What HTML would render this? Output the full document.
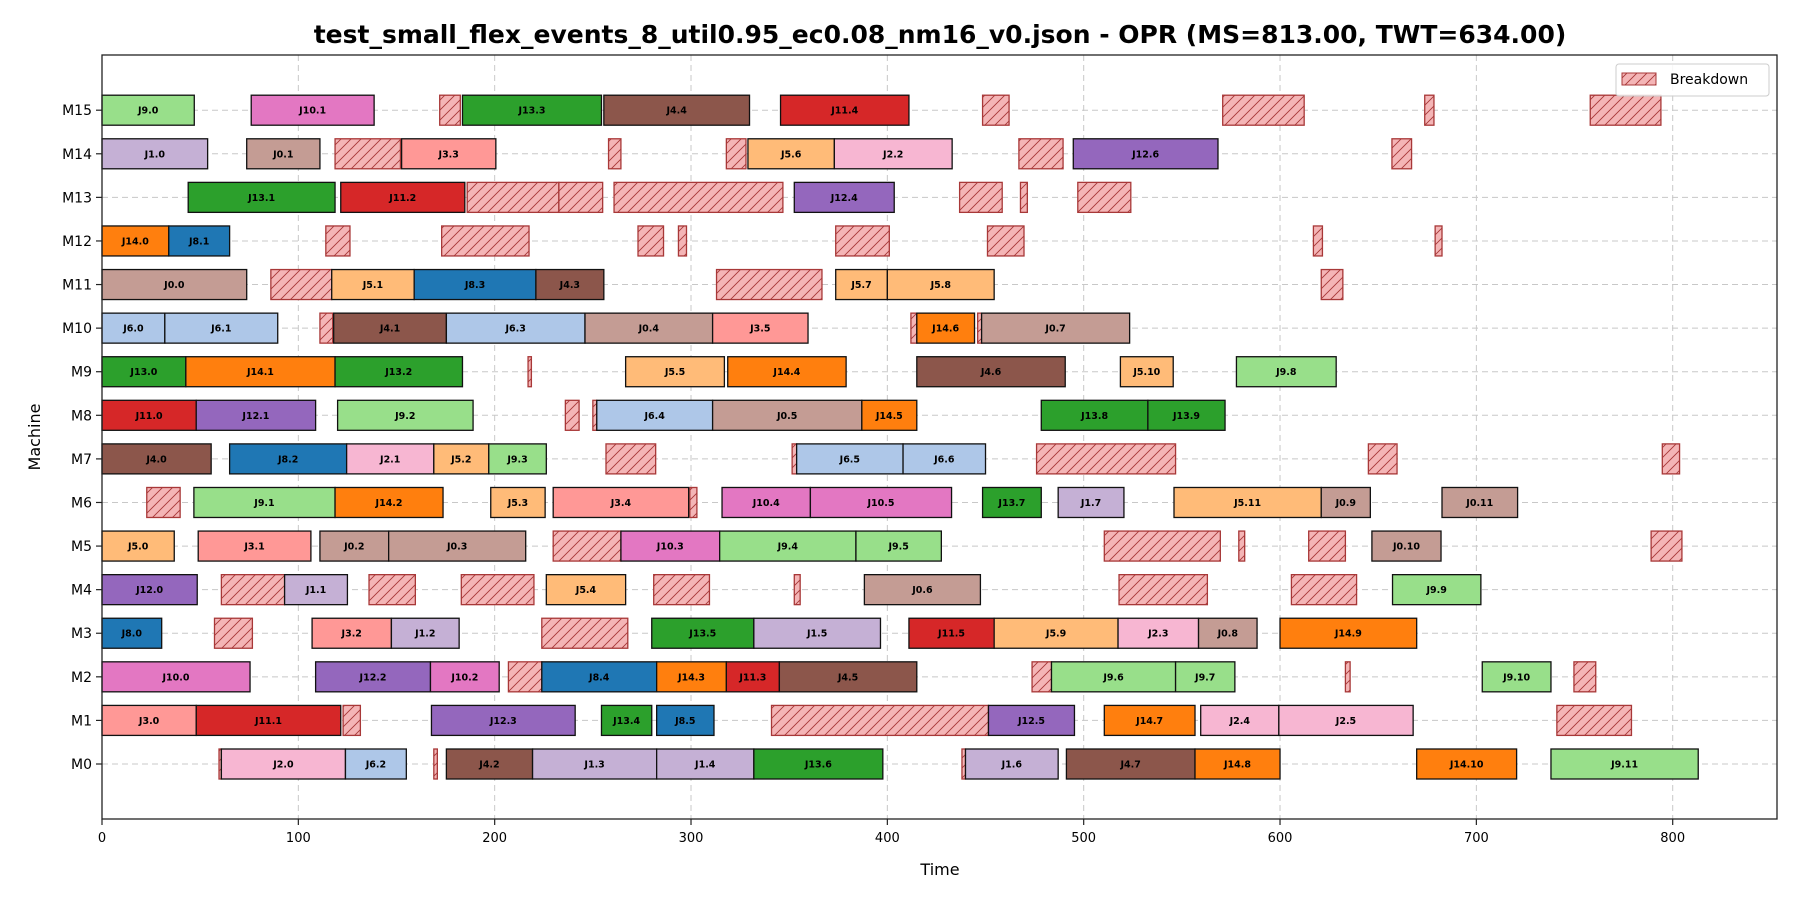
<!DOCTYPE html>
<html><head><meta charset="utf-8">
<style>
html,body{margin:0;padding:0;background:#fff;}
svg{display:block;font-family:"DejaVu Sans","Liberation Sans",sans-serif;}
</style></head>
<body>
<svg id="chart" width="1800" height="900" viewBox="0 0 1800 900">
<defs>
<pattern id="hatch" patternUnits="userSpaceOnUse" width="10" height="10">
<rect width="10" height="10" fill="#f4b5b6"/>
<path d="M-2,12 L12,-2 M-7,7 L7,-7 M3,17 L17,3" stroke="#a83838" stroke-width="0.9"/>
</pattern>
</defs>
<text x="940" y="43" text-anchor="middle" font-size="25" font-weight="bold">test_small_flex_events_8_util0.95_ec0.08_nm16_v0.json - OPR (MS=813.00, TWT=634.00)</text>
<g id="grid"></g>
<g id="bars"></g>
<rect x="102" y="55" width="1675" height="764" fill="none" stroke="#222" stroke-width="1.3"/>
<g id="axes"></g>
<text x="940" y="875" text-anchor="middle" font-size="16">Time</text>
<text x="0" y="0" transform="translate(40,437) rotate(-90)" text-anchor="middle" font-size="16">Machine</text>
<g>
<rect x="1616" y="64" width="153" height="32" rx="3" fill="#fff" fill-opacity="0.85" stroke="#ccc"/>
<rect x="1622" y="73" width="34" height="12" fill="url(#hatch)" stroke="#a83838"/>
<text x="1670" y="84" font-size="14">Breakdown</text>
</g>
</svg>
<script>
const machineLabels = ["M0","M1","M2","M3","M4","M5","M6","M7","M8","M9","M10","M11","M12","M13","M14","M15"];
const xTicks = [0,100,200,300,400,500,600,700,800];
const jobColors = {J0:"#c49c94",J1:"#c5b0d5",J2:"#f7b6d2",J3:"#ff9896",J4:"#8c564b",J5:"#ffbb78",J6:"#aec7e8",J8:"#1f77b4",J9:"#98df8a",J10:"#e377c2",J11:"#d62728",J12:"#9467bd",J13:"#2ca02c",J14:"#ff7f0e"};
// [machine, start, end, label]
const jobBars = [
[15,0,47,"J9.0"],[15,76,138.6,"J10.1"],[15,183.6,254.4,"J13.3"],[15,255.6,329.8,"J4.4"],[15,345.6,411,"J11.4"],
[14,0,53.8,"J1.0"],[14,73.7,111,"J0.1"],[14,152.6,200.6,"J3.3"],[14,329,373,"J5.6"],[14,373,433,"J2.2"],[14,494.7,568.4,"J12.6"],
[13,43.9,118.7,"J13.1"],[13,121.6,184.8,"J11.2"],[13,352.6,403.5,"J12.4"],
[12,0,34,"J14.0"],[12,34,65,"J8.1"],
[11,0,73.7,"J0.0"],[11,117,159,"J5.1"],[11,159,221,"J8.3"],[11,221,255.6,"J4.3"],[11,373.7,400,"J5.7"],[11,400,454.4,"J5.8"],
[10,0,32,"J6.0"],[10,32,89.5,"J6.1"],[10,118,175.4,"J4.1"],[10,175.4,246,"J6.3"],[10,246,311,"J0.4"],[10,311,359.6,"J3.5"],[10,415,444.4,"J14.6"],[10,448,523.4,"J0.7"],
[9,0,42.7,"J13.0"],[9,42.7,118.7,"J14.1"],[9,118.7,183.6,"J13.2"],[9,266.7,317,"J5.5"],[9,318.7,379,"J14.4"],[9,415,490.6,"J4.6"],[9,518.7,545.6,"J5.10"],[9,577.8,628.6,"J9.8"],
[8,0,48,"J11.0"],[8,48,108.8,"J12.1"],[8,120,189,"J9.2"],[8,252,311,"J6.4"],[8,311,387,"J0.5"],[8,387,415,"J14.5"],[8,478.4,532.7,"J13.8"],[8,532.7,572,"J13.9"],
[7,0,55.6,"J4.0"],[7,65,124.6,"J8.2"],[7,124.6,169,"J2.1"],[7,169,197,"J5.2"],[7,197,226.3,"J9.3"],[7,353.8,408,"J6.5"],[7,408,450,"J6.6"],
[6,46.8,118.7,"J9.1"],[6,118.7,173.7,"J14.2"],[6,198,225.7,"J5.3"],[6,229.8,298.8,"J3.4"],[6,315.8,360.8,"J10.4"],[6,360.8,432.7,"J10.5"],[6,448.5,478.4,"J13.7"],[6,487,520.5,"J1.7"],[6,546,621,"J5.11"],[6,621,646,"J0.9"],[6,682.5,721,"J0.11"],
[5,0,36.8,"J5.0"],[5,49,106.4,"J3.1"],[5,111,146,"J0.2"],[5,146,215.8,"J0.3"],[5,264.3,314.6,"J10.3"],[5,314.6,384,"J9.4"],[5,384,427.5,"J9.5"],[5,646.8,682,"J0.10"],
[4,0,48.5,"J12.0"],[4,93,125,"J1.1"],[4,226.3,266.7,"J5.4"],[4,388.3,447.4,"J0.6"],[4,657.3,702.3,"J9.9"],
[3,0,30.4,"J8.0"],[3,107,147.4,"J3.2"],[3,147.4,181.9,"J1.2"],[3,280,332,"J13.5"],[3,332,396.5,"J1.5"],[3,411,454.4,"J11.5"],[3,454.4,517.5,"J5.9"],[3,517.5,558.5,"J2.3"],[3,558.5,588.3,"J0.8"],[3,600,669.6,"J14.9"],
[2,0,75.4,"J10.0"],[2,108.8,167.3,"J12.2"],[2,167.3,202.3,"J10.2"],[2,224,282.5,"J8.4"],[2,282.5,318,"J14.3"],[2,318,345,"J11.3"],[2,345,415,"J4.5"],[2,483.6,546.8,"J9.6"],[2,546.8,577,"J9.7"],[2,703,738,"J9.10"],
[1,0,48,"J3.0"],[1,48,121.6,"J11.1"],[1,167.8,241,"J12.3"],[1,254.4,280,"J13.4"],[1,282.5,311.7,"J8.5"],[1,451.5,495.3,"J12.5"],[1,510.5,556.7,"J14.7"],[1,559.6,599.4,"J2.4"],[1,599.4,667.8,"J2.5"],
[0,60.8,124,"J2.0"],[0,124,155,"J6.2"],[0,175.4,219.3,"J4.2"],[0,219.3,282.5,"J1.3"],[0,282.5,332,"J1.4"],[0,332,397.7,"J13.6"],[0,439.8,487,"J1.6"],[0,491.2,556.7,"J4.7"],[0,556.7,600,"J14.8"],[0,669.6,720.5,"J14.10"],[0,738,813,"J9.11"]
];
// [machine, start, end]
const breakdowns = [
[15,172,182.5],[15,448.5,462],[15,570.8,612.3],[15,673.7,678.4],[15,758,794],
[14,118.7,152],[14,258,264.3],[14,318,328],[14,467,489.5],[14,657,667],
[13,186,232.7],[13,232.7,255],[13,260.8,346.8],[13,436.8,458.5],[13,467.8,471.3],[13,497,524],
[12,114,126.3],[12,173,217.5],[12,273,286],[12,293.6,297.7],[12,373.7,401],[12,451,469.6],[12,617,621.6],[12,679,682.5],
[11,86,117],[11,313,366.7],[11,621,632],
[10,111,117.5],[10,412,415],[10,446,448],
[9,217,218.7],
[8,236,243],[8,250,252],
[7,256.7,282],[7,351.5,353.8],[7,476,546.8],[7,645,659.6],[7,794.7,803.5],
[6,22.8,39.8],[6,299.4,303],
[5,229.8,264.3],[5,510.5,569.6],[5,579,582],[5,614.6,633.3],[5,789,804.7],
[4,60.8,93],[4,136,159.6],[4,183,220],[4,281,309.4],[4,352.6,355.6],[4,518,563],[4,605.8,639],
[3,57.3,76.6],[3,224,267.8],
[2,207,224],[2,473.7,483.6],[2,633.3,635.7],[2,749.7,760.8],
[1,122.8,131.6],[1,341,451.5],[1,741,779],
[0,59.6,60.8],[0,169,170.8],[0,438,439.8]
];
const NS="http://www.w3.org/2000/svg";
const X0=102, XS=(1672.7-102)/800;
const Y0=764, YS=(764-110.2)/15, BH=30;
function xPos(t){return X0+t*XS;}
function yPos(m){return Y0-m*YS;}
function mk(tag,attrs,parent){const e=document.createElementNS(NS,tag);for(const k in attrs)e.setAttribute(k,attrs[k]);parent.appendChild(e);return e;}
const grid=document.getElementById('grid'), bars=document.getElementById('bars'), axes=document.getElementById('axes');
xTicks.forEach(function(t){
  const gl=mk('line',{x1:xPos(t),x2:xPos(t),y1:55,y2:819,stroke:'#c8c8c8','stroke-dasharray':'6,4','stroke-width':1},grid);
  
  
  const tk=mk('line',{x1:xPos(t),x2:xPos(t),y1:819,y2:825,stroke:'#222','stroke-width':1.2},axes);
  
  
  const tl=mk('text',{x:xPos(t),y:842,'text-anchor':'middle','font-size':13},axes);
  tl.textContent=String(t);
  
  
});
machineLabels.forEach(function(lab,m){
  const gl=mk('line',{x1:102,x2:1777,y1:yPos(m),y2:yPos(m),stroke:'#c8c8c8','stroke-dasharray':'6,4','stroke-width':1},grid);
  
  
  const tk=mk('line',{x1:96,x2:102,y1:yPos(m),y2:yPos(m),stroke:'#222','stroke-width':1.2},axes);
  
  
  const tl=mk('text',{x:92,y:yPos(m)+5,'text-anchor':'end','font-size':14},axes);
  tl.textContent=lab;
  
  
});
breakdowns.forEach(function(b){
  const r=mk('rect',{x:xPos(b[1]),y:yPos(b[0])-BH/2,width:Math.max(1,xPos(b[2])-xPos(b[1])),height:BH,fill:'url(#hatch)',stroke:'#a83838','stroke-width':1.3},bars);
  
  
});
jobBars.forEach(function(b){
  const job=b[3].split('.')[0];
  const r=mk('rect',{x:xPos(b[1]),y:yPos(b[0])-BH/2,width:xPos(b[2])-xPos(b[1]),height:BH,fill:jobColors[job]||'#999',stroke:'#111','stroke-width':1.3},bars);
  
  
  const t=mk('text',{x:(xPos(b[1])+xPos(b[2]))/2,y:yPos(b[0])+3.5,'text-anchor':'middle','font-size':9.5,'font-weight':'bold'},bars);
  t.textContent=b[3];
  
  
});
</script>
</body></html>
